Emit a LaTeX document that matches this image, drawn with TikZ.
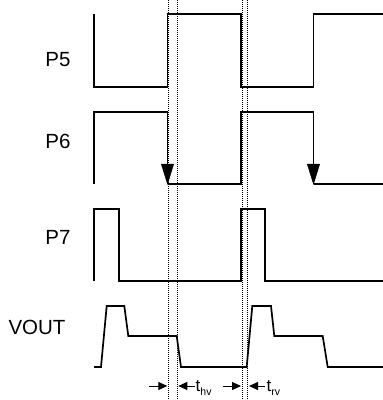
\documentclass[tikz,border=0pt]{standalone}
\usepackage{fontspec}
\setmainfont{Liberation Sans}
\usetikzlibrary{arrows.meta}
\begin{document}
\begin{tikzpicture}[x=1pt,y=-1pt,
  sig/.style={line width=1.7pt, line join=miter},
  guide/.style={line width=1pt, dash pattern=on 1pt off 1pt},
  lbl/.style={font=\fontsize{20.5}{20.5}\selectfont, inner sep=0pt},
  dimarrow/.style={line width=1pt, -{Triangle[length=9pt,width=8pt]}},
  tlbl/.style={font=\fontsize{17}{17}\selectfont, inner sep=0pt, anchor=base west},
  headtri/.style={fill=black, draw=black, line width=0.5pt}]
\useasboundingbox (0,0) rectangle (383,400);
% guide lines
\foreach \gx in {168.7,177.7,242.3,247.7}
  \draw[guide] (\gx,0) -- (\gx,400);
% labels
\node[lbl] (p5) at (58,60) {P5};
\node[lbl] (p6) at (58,141) {P6};
\node[lbl] (p7) at (58,237.5) {P7};
\node[lbl] (vout) at (37,327) {VOUT};
% P5
\draw[sig] (94,14) -- (94,87) -- (167.5,87) -- (167.5,14) -- (241,14) -- (241,87) -- (313.5,87) -- (313.5,14) -- (383,14);
% P6
\draw[sig] (94,184) -- (94,112) -- (167.5,112) -- (167.5,178) (167.5,184) -- (241,184) -- (241,112) -- (313.5,112) -- (313.5,178) (313.5,184) -- (383,184);
\fill[headtri] (161.3,164) -- (173.7,164) -- (167.5,184) -- cycle;
\fill[headtri] (307.3,164) -- (319.7,164) -- (313.5,184) -- cycle;
% P7
\draw[sig] (94,281) -- (94,209) -- (119,209) -- (119,281) -- (241,281) -- (241,209) -- (265,209) -- (265,281) -- (383,281);
% VOUT
\draw[sig] (94,367) -- (101,367) -- (106.7,306) -- (124.3,306) -- (128.3,336) -- (176.7,336) -- (181,367) -- (246.7,367) -- (252.3,306) -- (271,306) -- (274.3,336) -- (322.7,336) -- (327.7,367) -- (383,367);
% dimension arrows
\coordinate (a1s) at (149,386);
\coordinate (a1e) at (167.3,386);
\coordinate (a2s) at (195,386);
\coordinate (a2e) at (178.3,386);
\coordinate (a3s) at (222.7,386);
\coordinate (a3e) at (241,386);
\coordinate (a4s) at (265,386);
\coordinate (a4e) at (249,386);
\draw[dimarrow] (a1s) -- (a1e);
\draw[dimarrow] (a2s) -- (a2e);
\draw[dimarrow] (a3s) -- (a3e);
\draw[dimarrow] (a4s) -- (a4e);
\node[tlbl] (thv) at (195.5,391) {t\raisebox{-4pt}{\fontsize{10.5}{10.5}\selectfont hv}};
\node[tlbl] (trv) at (266.5,391) {t\raisebox{-4pt}{\fontsize{10.5}{10.5}\selectfont rv}};
\end{tikzpicture}
\end{document}
